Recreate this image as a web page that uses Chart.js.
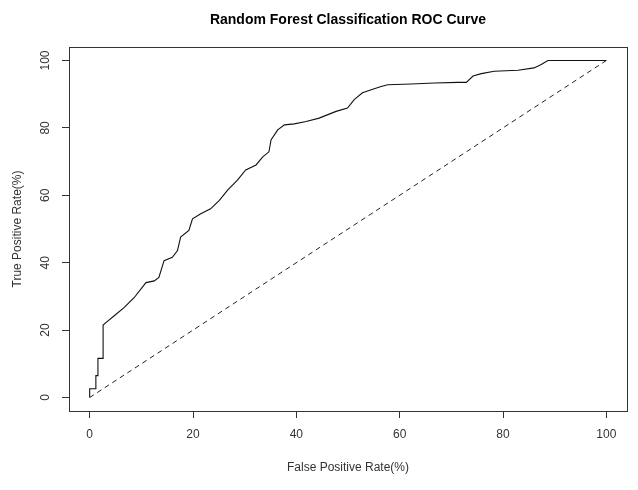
<!DOCTYPE html>
<html>
<head>
<meta charset="utf-8">
<script src="https://cdn.jsdelivr.net/npm/chart.js@4.4.1/dist/chart.umd.min.js"></script>
<style>
    html, body { margin: 0; padding: 0; background: #fff; }
</style>
</head>
<body>
<canvas id="roc" width="638" height="490"></canvas>
<script>
const fpr = [0, 0, 1.2, 1.2, 1.6, 1.6, 2.6, 2.6, 3.2, 4.7, 6.6, 8.6, 10.9, 12.5, 13.4, 14.4, 16.0, 17.0, 17.6,
    19.2, 19.9, 21.5, 23.4, 25.1, 26.7, 28.6, 30.2, 32.2, 33.5, 34.7, 35.1, 36.4, 37.7, 39.6, 41.9, 44.4,
    47.7, 49.9, 51.2, 52.8, 54.5, 56.4, 57.7, 62.2, 66.7, 71.3, 72.9, 74.2, 75.8, 78.3, 82.9, 86.0, 87.4, 88.7, 100];
const tpr = [0, 2.6, 2.6, 6.5, 6.5, 11.6, 11.6, 21.5, 22.3, 24.2, 26.6, 29.6, 34.1, 34.6, 35.6, 40.6, 41.6, 43.6, 47.6,
    49.6, 53.0, 54.5, 56.0, 58.5, 61.5, 64.5, 67.5, 69.0, 71.4, 72.9, 76.4, 79.4, 80.9, 81.2, 81.9, 82.9,
    84.9, 85.9, 88.4, 90.4, 91.3, 92.3, 92.8, 93.0, 93.3, 93.5, 93.5, 95.4, 96.1, 96.8, 97.1, 97.8, 98.8, 100, 100];

// diagonale du hasard
const chanceFpr = [0, 100];
const chanceTpr = [0, 100];

const xTicks = [0, 20, 40, 60, 80, 100];
const yTicks = [0, 20, 40, 60, 80, 100];

const chartTitle = "Random Forest Classification ROC Curve";
const xTitle = "False Positive Rate(%)";
const yTitle = "True Positive Rate(%)";

const police = "'Liberation Sans', Arial, sans-serif";
const encre = "#333";

// Titre centré sur la zone de tracé + cadre + labels Y tournés (comme R)
const decorR = {
    id: 'decorR',
    afterDraw(chart) {
        const ctx = chart.ctx;
        const a = chart.chartArea;
        ctx.save();
        ctx.strokeStyle = encre;
        ctx.lineWidth = 1;
        ctx.strokeRect(Math.round(a.left) + 0.5, Math.round(a.top) + 0.5,
            Math.round(a.right - a.left), Math.round(a.bottom - a.top));

        ctx.fillStyle = "#000";
        ctx.font = "bold 14px " + police;
        ctx.textAlign = "center";
        ctx.textBaseline = "middle";
        ctx.fillText(chartTitle, (a.left + a.right) / 2, 20);

        const y = chart.scales.y;
        ctx.fillStyle = encre;
        ctx.font = "12px " + police;
        y.ticks.forEach(t => {
            ctx.save();
            ctx.translate(46, y.getPixelForValue(t.value));
            ctx.rotate(-Math.PI / 2);
            ctx.fillText(String(t.value), 0, 0);
            ctx.restore();
        });
        ctx.restore();
    }
};

const ctx = document.getElementById('roc').getContext('2d');
new Chart(ctx, {
    type: 'line',
    data: {
        datasets: [{
            label: 'ROC',
            data: fpr.map((v, i) => ({ x: v, y: tpr[i] })),
            borderColor: '#111',
            borderWidth: 1.1,
            pointRadius: 0,
            fill: false,
            tension: 0
        }, {
            label: 'Hasard',
            data: chanceFpr.map((v, i) => ({ x: v, y: chanceTpr[i] })),
            borderColor: '#222',
            borderWidth: 1,
            borderDash: [5, 4],
            pointRadius: 0,
            fill: false
        }]
    },
    options: {
        responsive: false,
        animation: false,
        devicePixelRatio: 1,
        layout: { padding: { top: 47, right: 11, left: 0, bottom: 0 } },
        plugins: {
            legend: { display: false },
            tooltip: { enabled: false },
            title: { display: false }
        },
        scales: {
            x: {
                type: 'linear',
                min: -4,
                max: 104,
                afterBuildTicks: s => { s.ticks = xTicks.map(v => ({ value: v })); },
                afterFit: s => { s.height = 79; },
                grid: { display: true, drawOnChartArea: false, drawTicks: true, tickLength: 7, color: encre },
                border: { display: true, color: encre },
                ticks: { color: encre, font: { family: police, size: 12 }, padding: 9, maxRotation: 0 },
                title: { display: true, text: xTitle, color: encre, font: { family: police, size: 12 }, padding: { top: 0, bottom: 15 } }
            },
            y: {
                type: 'linear',
                min: -4,
                max: 104,
                afterBuildTicks: s => { s.ticks = yTicks.map(v => ({ value: v })); },
                afterFit: s => { s.width = 69; },
                grid: { display: true, drawOnChartArea: false, drawTicks: true, tickLength: 7, color: encre },
                border: { display: true, color: encre },
                ticks: { display: false },
                title: { display: true, text: yTitle, color: encre, font: { family: police, size: 12 }, padding: { top: 10, bottom: 0 } }
            }
        }
    },
    plugins: [decorR]
});
</script>
</body>
</html>
